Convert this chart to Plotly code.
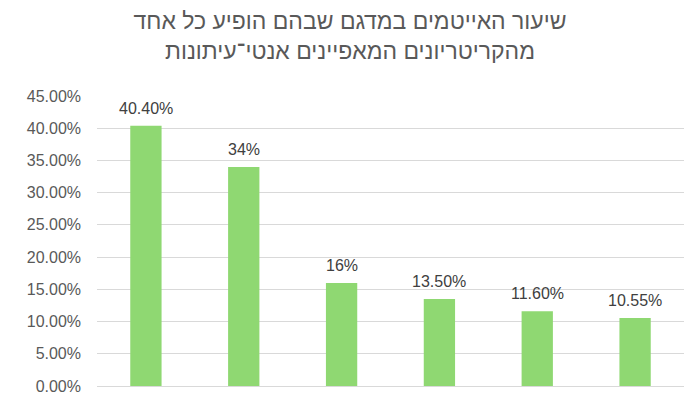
import plotly.graph_objects as go

# Data
criteria = ["c1", "c2", "c3", "c4", "c5", "c6"]
shares = [0.404, 0.34, 0.16, 0.135, 0.116, 0.1055]
share_labels = ["40.40%", "34%", "16%", "13.50%", "11.60%", "10.55%"]

title_text = "שיעור האייטמים במדגם שבהם הופיע כל אחד<br>מהקריטריונים המאפיינים אנטי־עיתונות"

font_family = "Liberation Sans, Arial, sans-serif"
text_grey = "#595959"

fig = go.Figure()
fig.add_trace(go.Bar(
    x=criteria,
    y=shares,
    marker=dict(color="#8fd872", line=dict(width=0)),
    width=0.32,
    hoverinfo="y",
))

# value labels above each bar
for cat, val, lab in zip(criteria, shares, share_labels):
    fig.add_annotation(
        x=cat, y=val, text=lab,
        showarrow=False, yanchor="bottom", yshift=7,
        font=dict(family=font_family, size=16, color="#404040"),
    )

# page body has an 8px margin, so the figure is shifted a bit in the window
fig.update_layout(
    width=684,
    height=398,
    margin=dict(l=89, r=8, t=88, b=20),
    paper_bgcolor="white",
    plot_bgcolor="white",
    showlegend=False,
    title=dict(
        text=title_text,
        x=0.5, xanchor="center",
        yref="container", y=1 - 21 / 398, yanchor="middle",
        font=dict(family=font_family, size=23, color=text_grey),
    ),
    font=dict(family=font_family, color=text_grey),
)

fig.update_xaxes(showticklabels=False, showgrid=False, zeroline=False,
                 showline=False, ticks="", automargin=False)
fig.update_yaxes(
    range=[0, 0.45],
    dtick=0.05,
    tickformat=".2%",
    showgrid=True,
    gridcolor="#d9d9d9",
    gridwidth=1,
    zeroline=True,
    zerolinecolor="#d9d9d9",
    zerolinewidth=1,
    showline=False,
    ticks="",
    ticklabelstandoff=15,
    automargin=False,
    tickfont=dict(family=font_family, size=16, color=text_grey),
)

fig.write_html("out.html")
